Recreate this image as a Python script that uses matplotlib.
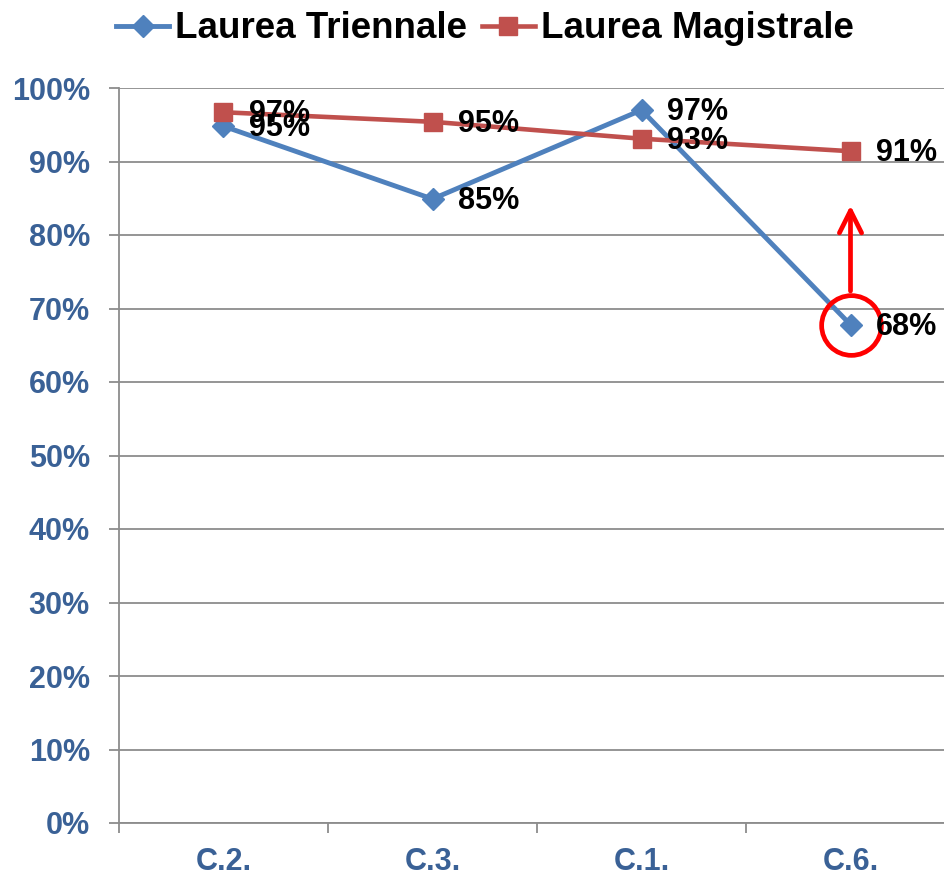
import matplotlib.pyplot as plt
from matplotlib.ticker import FixedLocator, PercentFormatter

# values (labels show them rounded)
categories = ["C.2.", "C.3.", "C.1.", "C.6."]
triennale = [94.8, 84.9, 97.0, 67.8]
magistrale = [96.7, 95.4, 93.1, 91.4]
y_ticks = list(range(0, 101, 10))

BLUE = "#4F81BD"
RED = "#C0504D"
TICK_COLOR = "#3A6196"
GRID = "#8C8C8C"

plt.rcParams['font.family'] = ['Liberation Sans', 'DejaVu Sans']
plt.rcParams['font.weight'] = 'bold'

fig = plt.figure(figsize=(9.45, 8.77), dpi=100)
ax = fig.add_axes([119 / 945, 54 / 877, 836 / 945, 735 / 877])

x = list(range(len(categories)))
ax.plot(x, triennale, color=BLUE, linewidth=3.5, marker='D', markersize=11,
        label="Laurea Triennale", zorder=3)
ax.plot(x, magistrale, color=RED, linewidth=3.3, marker='s', markersize=13.5,
        label="Laurea Magistrale", zorder=3)

# data labels to the right of each point
for xi, v in zip(x, triennale):
    ax.annotate(f"{v:.0f}%", (xi, v), xytext=(18.5, -1.5), textcoords='offset points',
                ha='left', va='center', fontsize=22, fontweight='bold', zorder=5)
for xi, v in zip(x, magistrale):
    ax.annotate(f"{v:.0f}%", (xi, v), xytext=(18.5, -1.5), textcoords='offset points',
                ha='left', va='center', fontsize=22, fontweight='bold', zorder=5)

# red highlight on the last Triennale point
ax.plot([x[-1]], [triennale[-1]], marker='o', markersize=43, markerfacecolor='none',
        markeredgecolor='red', markeredgewidth=3.4, zorder=4)
ax.annotate('', xy=(x[-1], 84.4), xytext=(x[-1], 72.0),
            arrowprops=dict(arrowstyle='->,head_length=0.4,head_width=0.2',
                            color='red', lw=3.4, mutation_scale=40),
            zorder=4)

ax.set_xlim(-0.5, len(categories) - 0.5)
ax.set_ylim(0, 100)

ax.set_yticks(y_ticks)
ax.yaxis.set_major_formatter(PercentFormatter(decimals=0))
ax.set_xticks(x)
ax.set_xticklabels(categories)
ax.xaxis.set_minor_locator(FixedLocator([i - 0.5 for i in range(len(categories) + 1)]))

ax.tick_params(axis='y', length=7, width=1.3, color=GRID, pad=14,
               labelsize=22, labelcolor=TICK_COLOR)
ax.tick_params(axis='x', which='major', length=0, pad=17,
               labelsize=22, labelcolor=TICK_COLOR)
ax.tick_params(axis='x', which='minor', length=7, width=1.3, color=GRID)
for lbl in ax.get_xticklabels() + ax.get_yticklabels():
    lbl.set_fontweight('bold')

ax.grid(axis='y', color=GRID, linewidth=1.3)
ax.set_axisbelow(True)
for side in ['top', 'right']:
    ax.spines[side].set_visible(False)
for side in ['left', 'bottom']:
    ax.spines[side].set_color(GRID)
    ax.spines[side].set_linewidth(1.3)

fig.legend(loc='center', bbox_to_anchor=(0.513, 0.967), ncol=2, frameon=False,
           prop={'size': 26.5, 'weight': 'bold'}, handlelength=1.45,
           handletextpad=0.15, columnspacing=0.4, borderaxespad=0)

fig.savefig("out.png", dpi=100)
